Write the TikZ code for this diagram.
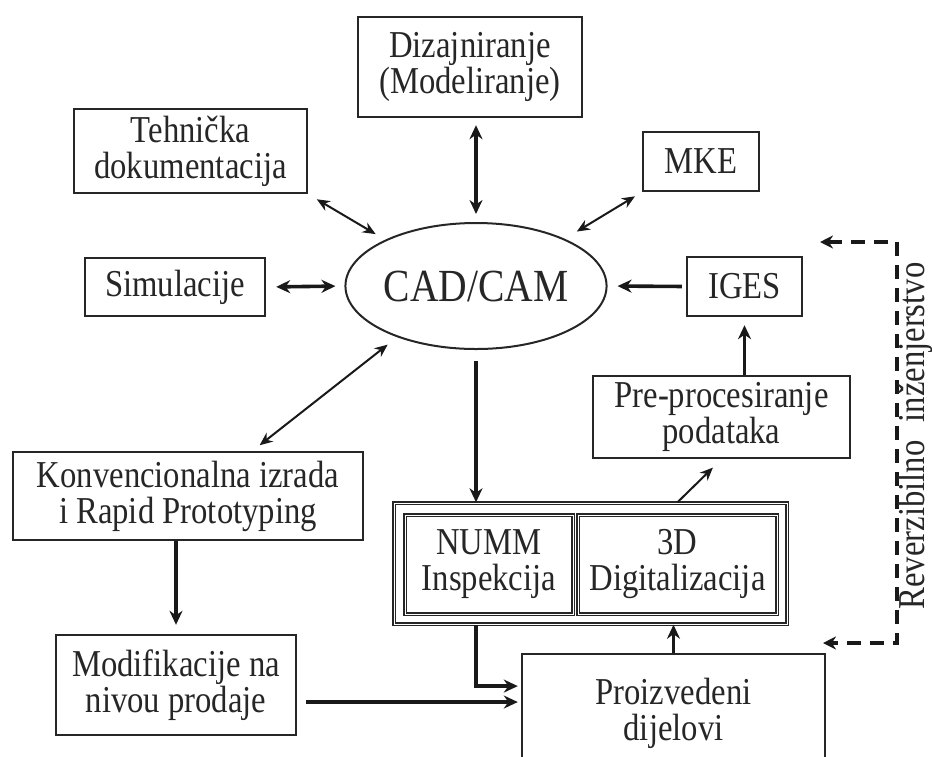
\documentclass[tikz,border=0pt]{standalone}
\usepackage{fontspec}
\setmainfont{Liberation Serif}[FakeStretch=0.86]
\usetikzlibrary{arrows.meta,shapes.geometric}

\begin{document}
\begin{tikzpicture}[
    x=0.5pt, y=-0.5pt,
    box/.style={
        draw=black!85,
        line width=1.2pt,
        align=center,
        inner sep=0pt,
        text=black!85,
        font=\fontsize{19}{18}\selectfont,
    },
    dbox/.style={box, double, double distance=0.5pt, line width=0.75pt},
    link/.style={line width=1.8pt, black!90, {Stealth[length=7pt,width=6.5pt]}-{Stealth[length=7pt,width=6.5pt]}},
    flow/.style={line width=1.8pt, black!90, -{Stealth[length=7pt,width=6.5pt]}},
    thin/.style={line width=1pt, black!90, {Stealth[length=6.5pt,width=5.5pt]}-{Stealth[length=6.5pt,width=5.5pt]}},
    revline/.style={line width=1.6pt, black!90, dash pattern=on 7pt off 4.5pt,
        {Stealth[length=6.5pt,width=6.5pt]}-{Stealth[length=6.5pt,width=6.5pt]}},
]
\useasboundingbox (0,0) rectangle (932,756);

% centre and the blocks round it
\node[ellipse, draw=black!85, line width=1pt, minimum width=122pt, minimum height=63pt,
      inner sep=0pt, text=black!85, font=\fontsize{23}{23}\selectfont] (cad) at (476,286) {CAD/CAM};
\node[box, minimum width=112pt, minimum height=50pt] (diz) at (470,67) {Dizajniranje\\(Modeliranje)};
\node[box, minimum width=116.5pt, minimum height=42pt] (tehn) at (190.5,151) {Tehnička\\dokumentacija};
\node[box, minimum width=58pt, minimum height=29.5pt] (mke) at (701,161.5) {MKE};
\node[box, minimum width=90pt, minimum height=29pt] (sim) at (175,287) {Simulacije};
\node[box, minimum width=57.5pt, minimum height=29.5pt] (iges) at (744.5,286.5) {IGES};
\node[box, minimum width=128.5pt, minimum height=41pt] (pre) at (721.5,417) {Pre-procesiranje\\podataka};

% left column
\node[box, minimum width=175pt, minimum height=44pt] (konv) at (188,496) {Konvencionalna izrada\\i Rapid Prototyping};
\node[box, minimum width=120pt, minimum height=50pt] (modi) at (176,685) {Modifikacije na\\nivou prodaje};

% measuring block
\node[dbox, minimum width=196.5pt, minimum height=60.5pt] (outer) at (590.5,563.5) {};
\node[dbox, minimum width=84pt, minimum height=49.5pt] (numm) at (489,564.5) {NUMM\\Inspekcija};
\node[dbox, minimum width=99.5pt, minimum height=49.5pt] (digi) at (677.5,564.5) {3D\\Digitalizacija};
\node[box, minimum width=151.5pt, minimum height=59pt] (proi) at (673.5,713) {Proizvedeni\\dijelovi};

% connectors
\draw[link, shorten <=3.5pt, shorten >=4pt] (cad.north |- diz.south) -- (cad.north);
\draw[thin, shorten <=5pt, shorten >=5.5pt] (tehn.south east) -- (cad.153);
\draw[thin, shorten <=4pt, shorten >=7pt] (mke.south west) -- (cad.28);
\draw[link, shorten <=5pt, shorten >=4.5pt] (sim.east) -- (cad.west);
\draw[flow, shorten <=2pt, shorten >=5pt] (iges.west) -- (cad.east);
\draw[flow, shorten >=4pt] (iges.south |- pre.north) -- (iges.south);
\draw[thin, shorten <=6pt, shorten >=4.5pt] (cad.213) -- (konv.35);
\draw[flow, shorten <=5.5pt] (cad.south) -- (cad.south |- outer.north);
\draw[line width=1pt, black!90, -{Stealth[length=6.5pt,width=5.5pt]}, shorten >=6pt] (digi.north |- outer.north) -- (pre.south);
\draw[flow] (proi.north) -- (proi.north |- outer.south);
\draw[flow, shorten >=4.5pt] (konv.south -| modi.north) -- (modi.north);
\draw[flow, shorten <=4.5pt, shorten >=1.5pt] (modi.-8) -- (modi.-8 -| proi.west);
\draw[flow, line width=2.2pt, shorten >=1.5pt] (cad.south |- outer.south) |- (proi.170);

% reverse engineering loop
\coordinate (rtip1) at (820,242);
\coordinate (rtop) at (897,242);
\coordinate (rbot) at (897,643);
\coordinate (rtip2) at (823,643);
\draw[revline] (rtip1) -- (rtop) -- (rbot) -- (rtip2);
\node[rotate=90, text=black!85, font=\fontsize{19}{18}\selectfont] (rev) at (915,436) {Reverzibilno\hspace{5pt} inženjerstvo};

\end{tikzpicture}
\end{document}
